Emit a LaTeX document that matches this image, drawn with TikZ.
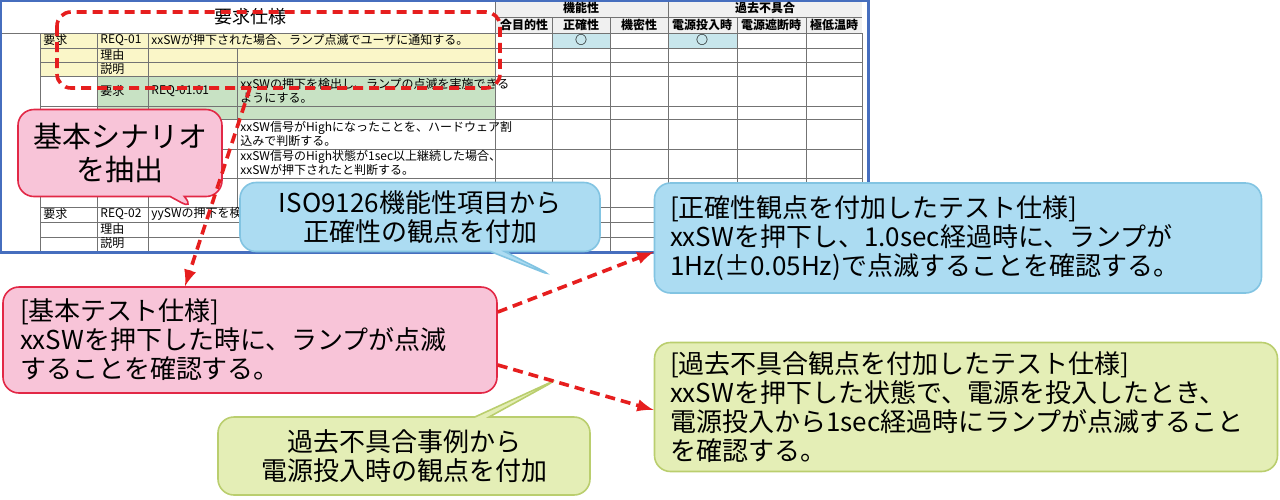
\documentclass[tikz,border=0pt]{standalone}
\usepackage{fontspec}
\setmainfont{Noto Sans CJK JP}
\usetikzlibrary{shapes.callouts}
\definecolor{pinkfill}{RGB}{248,196,216}
\definecolor{pinkline}{RGB}{226,40,70}
\definecolor{bluefill}{RGB}{172,220,242}
\definecolor{blueline}{RGB}{130,196,226}
\definecolor{greenfill}{RGB}{228,238,182}
\definecolor{greenline}{RGB}{186,206,110}
\definecolor{reqyellow}{RGB}{250,246,200}
\definecolor{reqgreen}{RGB}{200,226,196}
\definecolor{cellblue}{RGB}{200,230,236}
\definecolor{dashred}{RGB}{230,30,30}
\definecolor{sheetframe}{RGB}{70,110,190}
\tikzset{
  cell/.style={font=\fontsize{6}{7}\selectfont, anchor=west, inner sep=1pt},
  head/.style={font=\fontsize{6}{7}\selectfont\bfseries, inner sep=1pt},
  bubble/.style={font=\fontsize{13}{14.5}\selectfont, rounded corners=8pt, line width=0.8pt},
  pinkbubble/.style={bubble, fill=pinkfill, draw=pinkline},
  bluebubble/.style={bubble, fill=bluefill, draw=blueline},
  greenbubble/.style={bubble, fill=greenfill, draw=greenline},
  redarrow/.style={->, >=latex, dash pattern=on 5pt off 3pt, line width=1.8pt, draw=dashred}
}
\begin{document}
\begin{tikzpicture}[x=0.5pt, y=-0.5pt]
\useasboundingbox (0,0) rectangle (1280,499);
% spreadsheet
\fill[white] (0,0) rectangle (868,252);
\fill[reqyellow] (40,33) rectangle (495,76);
\fill[reqgreen] (97,76) rectangle (495,119);
\fill[cellblue] (552,33) rectangle (610,48);
\fill[cellblue] (668,33) rectangle (737,48);
\fill[black!6] (495,0) rectangle (862,33);
\foreach \y in {33,48,62,76,106,119,149,178,207,222,237}
  \draw[black!55, line width=0.4pt] (40,\y) -- (862,\y);
\draw[black!55, line width=0.4pt] (0,33) -- (40,33);
\draw[black!55, line width=0.4pt] (495,17) -- (862,17);
\foreach \x in {40,97,148,495,862}
  \draw[black!55, line width=0.4pt] (\x,33) -- (\x,252);
\draw[black!55, line width=0.4pt] (237,48) -- (237,207);
\draw[black!55, line width=0.4pt] (495,0) -- (495,33) (668,0) -- (668,33);
\foreach \x in {552,610,668,737,806}
  \draw[black!55, line width=0.4pt] (\x,17) -- (\x,252);
\draw[sheetframe, line width=1.5pt] (0,0) rectangle (868,252);
% header texts
\node[font=\fontsize{9}{10}\selectfont] (spec) at (250,17) {要求仕様};
\node[head] at (581,8) {機能性};
\node[head] at (765,8) {過去不具合};
\node[head] at (524,25) {合目的性};
\node[head] at (581,25) {正確性};
\node[head] at (639,25) {機密性};
\node[head] at (702,25) {電源投入時};
\node[head] at (771,25) {電源遮断時};
\node[head] at (834,25) {極低温時};
\node[head] at (581,40) {○};
\node[head] at (702,40) {○};
% row texts
\node[cell] at (41,40) {要求};
\node[cell] at (98,40) {REQ-01};
\node[cell] at (149,40) {xxSWが押下された場合、ランプ点滅でユーザに通知する。};
\node[cell] at (98,55) {理由};
\node[cell] at (98,69) {説明};
\node[cell] at (98,91) {要求};
\node[cell] at (149,91) {REQ-01.01};
\node[cell, align=left] at (238,91) {xxSWの押下を検出し、ランプの点滅を実施できる\\ようにする。};
\node[cell, align=left] at (238,134) {xxSW信号がHighになったことを、ハードウェア割\\込みで判断する。};
\node[cell, align=left] at (238,163) {xxSW信号のHigh状態が1sec以上継続した場合、\\xxSWが押下されたと判断する。};
\node[cell] at (41,214) {要求};
\node[cell] at (98,214) {REQ-02};
\node[cell] at (149,214) {yySWの押下を検};
\node[cell] at (98,229) {理由};
\node[cell] at (98,243) {説明};
% extracted scenario frame
\draw[dashred, line width=1.8pt, dash pattern=on 5pt off 3pt, rounded corners=7pt]
  (57,12) rectangle (500,88);
\coordinate (frame) at (250,88);
% callouts
\node[pinkbubble, font=\fontsize{14.5}{16.5}\selectfont, rectangle callout,
  callout absolute pointer={(195,210)},
  minimum width=102pt, minimum height=43.5pt, align=center] (extract) at (120,153)
  {基本シナリオ\\を抽出};
\node[bluebubble, rectangle callout, callout absolute pointer={(555,277)},
  minimum width=180pt, minimum height=34.5pt, align=center] (isonote) at (420,217)
  {ISO9126機能性項目から\\正確性の観点を付加};
\node[bluebubble, minimum width=303.5pt, minimum height=55pt, text width=288pt,
  align=left] (accspec) at (958,238)
  {[正確性観点を付加したテスト仕様]\\xxSWを押下し、1.0sec経過時に、ランプが\\1Hz(±0.05Hz)で点滅することを確認する。};
\node[pinkbubble, minimum width=247pt, minimum height=53pt, text width=230pt,
  align=left] (basespec) at (250,340)
  {[基本テスト仕様]\\xxSWを押下した時に、ランプが点滅\\することを確認する。};
\node[greenbubble, rectangle callout, callout absolute pointer={(560,378)},
  minimum width=186pt, minimum height=39pt, align=center] (pastnote) at (404,456)
  {過去不具合事例から\\電源投入時の観点を付加};
\node[greenbubble, minimum width=311.5pt, minimum height=64.5pt, text width=296pt,
  align=left] (pastspec) at (966,407)
  {[過去不具合観点を付加したテスト仕様]\\xxSWを押下した状態で、電源を投入したとき、\\電源投入から1sec経過時にランプが点滅すること\\を確認する。};
% dashed arrows
\draw[redarrow] (frame) -- (basespec.north -| 185,0);
\draw[redarrow] (basespec.east |- 0,312) -- (accspec.west |- 0,252);
\draw[redarrow] (basespec.east |- 0,365) -- (pastspec.west |- 0,410);
\end{tikzpicture}
\end{document}
